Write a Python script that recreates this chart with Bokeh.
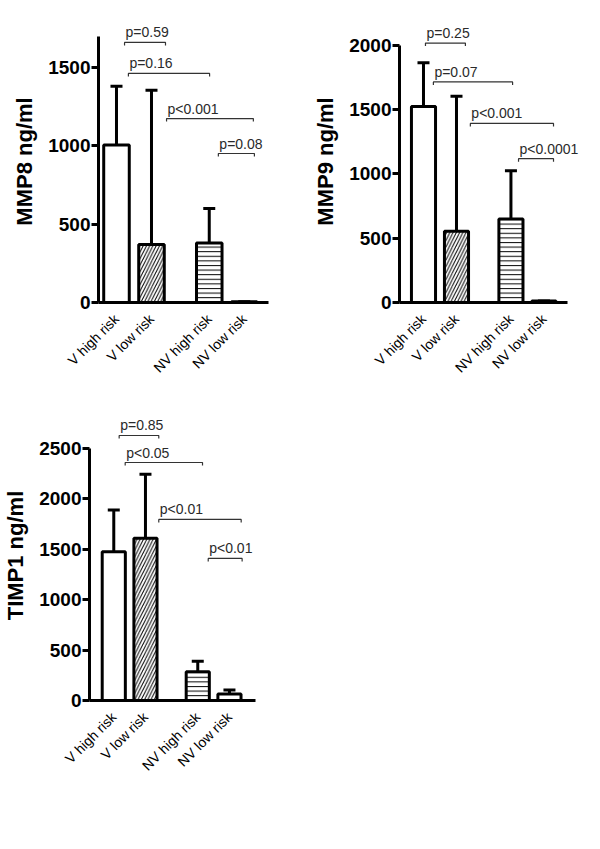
import math
from bokeh.plotting import figure
from bokeh.models import FixedTicker, Whisker, ColumnDataSource, Label, TeeHead
from bokeh.layouts import column, row
from bokeh.embed import file_html
from bokeh.resources import INLINE
from bokeh.core.properties import value

# ---------------- data ----------------
categories = ["V high risk", "V low risk", "NV high risk", "NV low risk"]
positions = [1, 2, 3.65, 4.65]
hatches = [" ", "/", "-", " "]

mmp8_mean = [1005, 370, 380, 5]
mmp8_upper = [1380, 1355, 600, 5]

mmp9_mean = [1525, 555, 650, 12]
mmp9_upper = [1865, 1605, 1025, 12]

timp1_mean = [1475, 1610, 285, 65]
timp1_upper = [1890, 2245, 390, 105]

a_p_text = ["p=0.59", "p=0.16", "p<0.001", "p=0.08"]
a_p_x0 = [1.23, 1.34, 2.43, 3.91]
a_p_x1 = [2.40, 3.66, 4.91, 4.94]
a_p_y = [1660, 1462, 1174, 951]

b_p_text = ["p=0.25", "p=0.07", "p<0.001", "p<0.0001"]
b_p_x0 = [1.06, 1.30, 2.42, 3.88]
b_p_x1 = [2.27, 3.70, 4.94, 4.94]
b_p_y = [2018, 1716, 1393, 1119]

c_p_text = ["p=0.85", "p<0.05", "p<0.01", "p<0.01"]
c_p_x0 = [1.17, 1.36, 2.42, 3.98]
c_p_x1 = [2.42, 3.80, 5.02, 5.05]
c_p_y = [2629, 2361, 1796, 1409]

FONT = "Liberation Sans"


def panel(means, uppers, ylabel, letter, yticks, ybound, yend, xstart, xend,
          xbound_end, pt, px0, px1, py, letter_x, letter_y,
          width, height, bl, br, bt, bb):
    p = figure(width=width, height=height, output_backend="svg",
               toolbar_location=None, x_range=(xstart, xend), y_range=(0, yend),
               min_border_left=bl, min_border_right=br, min_border_top=bt,
               min_border_bottom=bb)
    p.outline_line_color = None
    p.xgrid.grid_line_color = None
    p.ygrid.grid_line_color = None
    p.background_fill_color = "white"

    frame_h = height - bt - bb
    ypx = yend / frame_h

    src = ColumnDataSource(dict(x=positions, top=means, upper=uppers,
                                hatch=hatches, cat=categories,
                                hscale=[5, 6.5, 4.6, 5]))
    p.vbar(x="x", top="top", bottom=0, width=0.73, source=src,
           fill_color="white", line_color="black", line_width=3,
           hatch_pattern="hatch", hatch_color="black", hatch_scale="hscale",
           hatch_weight=1)
    w = Whisker(base="x", upper="upper", lower="top", source=src,
                upper_head=TeeHead(size=12, line_width=3, line_color="black"),
                lower_head=None, line_width=3, line_color="black")
    p.add_layout(w)

    # significance brackets
    d = 3 * ypx
    xs = [[a, a, b, b] for a, b in zip(px0, px1)]
    ys = [[y - d, y, y, y - d] for y in py]
    p.multi_line(xs=xs, ys=ys, line_color="#333333", line_width=1.2)
    tsrc = ColumnDataSource(dict(x=px0, y=[y + 10 * ypx for y in py], t=pt))
    p.text(x="x", y="y", text="t", source=tsrc, x_offset=1,
           text_font=value(FONT), text_font_size="14px",
           text_color="#2a2a2a", text_align="left",
           text_baseline="alphabetic")

    ya = p.yaxis[0]
    ya.ticker = FixedTicker(ticks=yticks)
    ya.bounds = (0, ybound)
    ya.axis_line_width = 3
    ya.major_tick_line_width = 3
    ya.major_tick_out = 7
    ya.major_tick_in = 0
    ya.minor_tick_line_color = None
    ya.major_label_text_font = FONT
    ya.major_label_text_font_style = "bold"
    ya.major_label_text_font_size = "19px"
    ya.major_label_text_color = "black"
    ya.major_label_standoff = 1
    ya.axis_label = ylabel
    ya.axis_label_text_font = FONT
    ya.axis_label_text_font_style = "bold"
    ya.axis_label_text_font_size = "22px"
    ya.axis_label_text_color = "black"
    ya.axis_label_standoff = 8

    xa = p.xaxis[0]
    xa.ticker = FixedTicker(ticks=positions)
    xa.major_label_overrides = {pos: c for pos, c in zip(positions, categories)}
    xa.bounds = (xstart, xbound_end)
    xa.axis_line_width = 3
    xa.major_tick_line_color = None
    xa.minor_tick_line_color = None
    xa.major_label_orientation = math.pi / 4
    xa.major_label_text_font = FONT
    xa.major_label_text_font_size = "14px"
    xa.major_label_text_color = "black"
    xa.major_label_standoff = 8

    p.add_layout(Label(x=letter_x, y=letter_y, text=letter, text_font=FONT,
                       text_font_size="20px", text_font_style="bold",
                       text_align="center", text_baseline="alphabetic",
                       text_color="black"))
    return p


pA = panel(mmp8_mean, mmp8_upper, "MMP8 ng/ml", "A", [0, 500, 1000, 1500],
           1700, 1800, 0.486, 6.114, 5.343, a_p_text, a_p_x0, a_p_x1, a_p_y,
           -1.314, 0, 300, 398, 98, 5, 20, 96)
pB = panel(mmp9_mean, mmp9_upper, "MMP9 ng/ml", "B", [0, 500, 1000, 1500, 2000],
           2000, 2194, 0.273, 5.970, 5.36, b_p_text, b_p_x0, b_p_x1, b_p_y,
           -1.515, 23, 292, 398, 99, 5, 20, 95)
pC = panel(timp1_mean, timp1_upper, "TIMP1 ng/ml", "C",
           [0, 500, 1000, 1500, 2000, 2500],
           2500, 2877, 0.234, 6.734, 5.48, c_p_text, c_p_x0, c_p_x1, c_p_y,
           -1.55, 40, 300, 390, 87, 5, 12, 88)

layout = column(row(pA, pB), row(pC))
open("out.html", "w").write(file_html(layout, INLINE))
